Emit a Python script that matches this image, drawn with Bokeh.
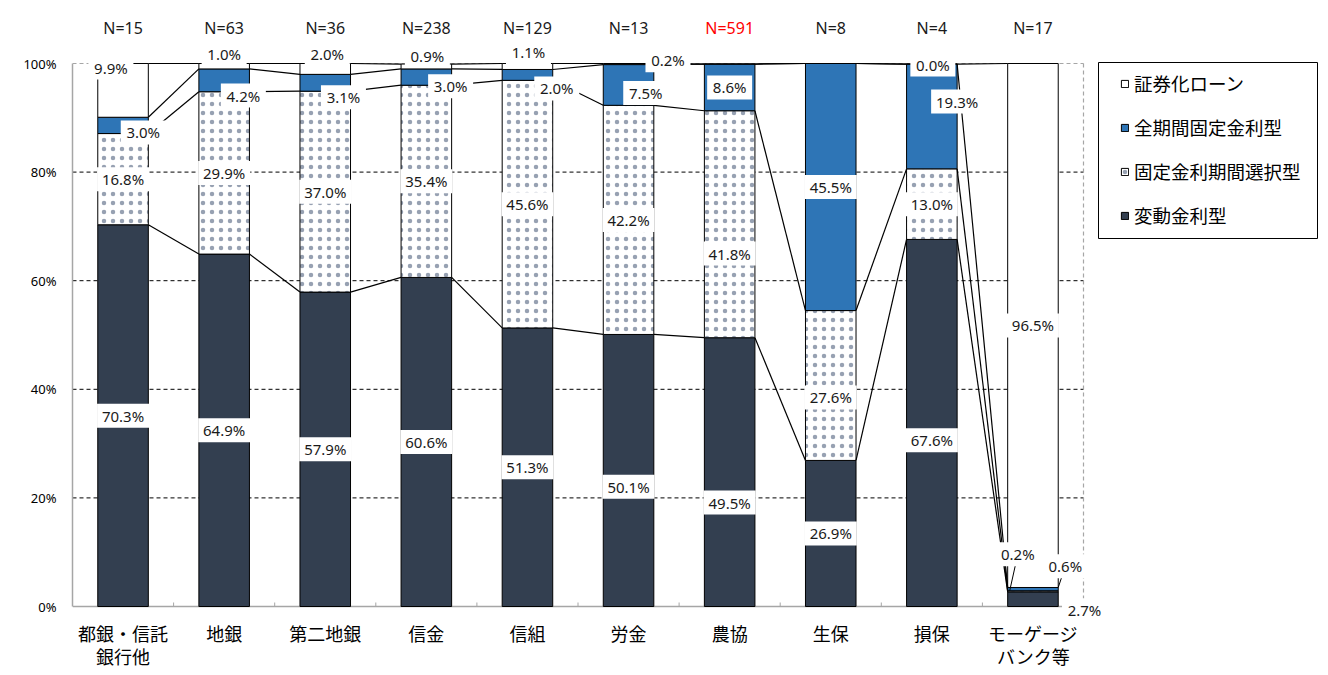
from bokeh.plotting import figure
from bokeh.models import ColumnDataSource, LabelSet, Legend, LegendItem, FixedTicker, Range1d
from bokeh.core.properties import value
from bokeh.embed import file_html
from bokeh.resources import INLINE

# ---- data ----
categories = ["都銀・信託\n銀行他", "地銀", "第二地銀", "信金", "信組", "労金", "農協", "生保", "損保", "モーゲージ\nバンク等"]
n_labels = ["N=15", "N=63", "N=36", "N=238", "N=129", "N=13", "N=591", "N=8", "N=4", "N=17"]
hendo = [70.3, 64.9, 57.9, 60.6, 51.3, 50.1, 49.5, 26.9, 67.6, 2.7]          # 変動金利型
kotei_sentaku = [16.8, 29.9, 37.0, 35.4, 45.6, 42.2, 41.8, 27.6, 13.0, 0.2]   # 固定金利期間選択型
zenkikan = [3.0, 4.2, 3.1, 3.0, 2.0, 7.5, 8.6, 45.5, 19.3, 0.6]               # 全期間固定金利型
shokenka = [9.9, 1.0, 2.0, 0.9, 1.1, 0.2, 0.0, 0.0, 0.0, 96.5]                # 証券化ローン
series_names = ["変動金利型", "固定金利期間選択型", "全期間固定金利型", "証券化ローン"]
y_ticks = [0, 20, 40, 60, 80, 100]
y_tick_labels = ["0%", "20%", "40%", "60%", "80%", "100%"]

series = [hendo, kotei_sentaku, zenkikan, shokenka]

# label adjustments (dx in category units, dy in percentage points), like the manual moves in the original
label_offsets = {
    (0, 2): (0.20, -1.3), (0, 3): (-0.12, 4.2),
    (1, 2): (0.19, -2.8), (1, 3): (0.0, 2.3),
    (2, 2): (0.18, -2.65), (2, 3): (0.02, 2.8),
    (3, 2): (0.24, -1.7), (3, 3): (0.01, 2.0),
    (4, 2): (0.29, -2.5), (4, 3): (0.01, 2.6),
    (5, 0): (0.0, -3.0), (5, 2): (0.17, -1.5), (5, 3): (0.39, 0.7),
    (6, 0): (0.0, -5.6), (6, 1): (0.0, -5.4),
    (7, 1): (0.0, -2.2),
    (8, 0): (0.0, -3.2), (8, 2): (0.25, 2.75), (8, 3): (0.01, -0.1),
    (9, 0): (0.51, -2.05), (9, 1): (-0.15, 6.8), (9, 2): (0.32, 4.2),
}
hidden_labels = {(6, 3), (7, 3)}
leader_labels = {(9, 1): "left", (9, 2): "right"}

# ---- styles / layout ----
DARK = "#333F50"
BLUE = "#2E75B6"
DOT = "#97A1B2"
GREY = "#A6A6A6"
NUM_FONT = "Noto Sans"
JP_FONT = "Noto Sans CJK JP"
BAR_W = 0.5
W, H = 1320, 668
LEFT = 72
PX_PER_CAT = 101.1
PX_PER_PCT = 5.43
ZERO_FROM_TOP = 606          # pixel row of 0% inside the figure

n = len(categories)
xc = [i + 0.5 for i in range(n)]

bottoms, tops = [], []
acc = [0.0] * n
for s in series:
    bottoms.append(list(acc))
    acc = [a + v for a, v in zip(acc, s)]
    tops.append(list(acc))

x_end = (W - LEFT) / PX_PER_CAT
y_end = ZERO_FROM_TOP / PX_PER_PCT
y_start = -(H - ZERO_FROM_TOP) / PX_PER_PCT

p = figure(width=W, height=H,
           x_range=Range1d(0, x_end), y_range=Range1d(y_start, y_end),
           output_backend="svg", toolbar_location=None,
           min_border_left=LEFT, min_border_right=0, min_border_top=0, min_border_bottom=0)
p.background_fill_color = "white"
p.border_fill_color = "white"
p.outline_line_color = None
p.xgrid.visible = False
p.ygrid.visible = False
p.xaxis.visible = False

# y axis (real axis, bounded to 0..100)
p.yaxis.bounds = (0, 100)
p.yaxis.ticker = FixedTicker(ticks=y_ticks)
p.yaxis.major_label_overrides = {t: l for t, l in zip(y_ticks, y_tick_labels)}
p.yaxis.axis_line_color = GREY
p.yaxis.axis_line_width = 1.5
p.yaxis.major_tick_line_color = None
p.yaxis.minor_tick_line_color = None
p.yaxis.major_label_text_font = NUM_FONT
p.yaxis.major_label_text_font_size = "13px"
p.yaxis.major_label_text_color = "black"
p.yaxis.major_label_standoff = 10

# gridlines, plot-area border, category axis line and boundary ticks
grid_y = [t for t in y_ticks if 0 < t < 100]
p.segment(x0=[0] * len(grid_y), y0=grid_y, x1=[n] * len(grid_y), y1=grid_y,
          line_color="black", line_dash="4 3", line_width=1, level="underlay")
p.segment(x0=[0, n], y0=[100, 0], x1=[n, n], y1=[100, 100],
          line_color=GREY, line_dash="4 3", line_width=1.2, level="underlay")
p.segment(x0=[0], y0=[0], x1=[n], y1=[0], line_color=GREY, line_width=1.5)
tick_len = 4 / PX_PER_PCT
p.segment(x0=list(range(1, n)), y0=[0] * (n - 1), x1=list(range(1, n)), y1=[tick_len] * (n - 1),
          line_color=GREY, line_width=1)

# bars
styles = [
    dict(fill_color=DARK),
    dict(fill_color="white", hatch_pattern="dot", hatch_color=DOT, hatch_scale=9, hatch_weight=0.9),
    dict(fill_color=BLUE),
    dict(fill_color="white"),
]
renderers = []
for k in range(4):
    src = ColumnDataSource(dict(x=xc, bottom=bottoms[k], top=tops[k]))
    r = p.vbar(x="x", bottom="bottom", top="top", width=BAR_W, source=src,
               line_color="black", line_width=1, **styles[k])
    renderers.append(r)

# series lines
x0s, y0s, x1s, y1s = [], [], [], []
for k in range(4):
    for i in range(n - 1):
        x0s.append(xc[i] + BAR_W / 2)
        y0s.append(tops[k][i])
        x1s.append(xc[i + 1] - BAR_W / 2)
        y1s.append(tops[k][i + 1])
p.segment(x0=x0s, y0=y0s, x1=x1s, y1=y1s, line_color="black", line_width=1.2)

# data labels
lx, ly, lt, lw = [], [], [], []
for k in range(4):
    for i in range(n):
        if (i, k) in hidden_labels:
            continue
        dx, dy = label_offsets.get((i, k), (0.0, 0.0))
        txt = f"{series[k][i]:.1f}%"
        lx.append(xc[i] + dx)
        ly.append((bottoms[k][i] + tops[k][i]) / 2 + dy)
        lt.append(txt)
        lw.append(7 * len(txt) + 17)

# leader lines (under the label boxes)
lead_x0, lead_y0, lead_x1, lead_y1 = [], [], [], []
for (i, k), side in leader_labels.items():
    dx, dy = label_offsets[(i, k)]
    lead_x0.append(xc[i] - BAR_W / 2 + 0.02 if side == "left" else xc[i] + BAR_W / 2)
    lead_y0.append(tops[k][i])
    lead_x1.append(xc[i] + dx)
    lead_y1.append((bottoms[k][i] + tops[k][i]) / 2 + dy)
p.segment(x0=lead_x0, y0=lead_y0, x1=lead_x1, y1=lead_y1, line_color="black", line_width=1)

lab_src = ColumnDataSource(dict(x=lx, y=ly, text=lt, w=lw))
p.rect(x="x", y="y", width="w", height=24, width_units="screen", height_units="screen",
       source=lab_src, fill_color="white", line_color=None)
p.add_layout(LabelSet(x="x", y="y", text="text", source=lab_src,
                      text_font=value(NUM_FONT), text_font_size="15px", text_color="#1a1a1a",
                      text_align="center", text_baseline="middle"))

# N labels above the bars
n_colors = ["red" if t == "N=591" else "#1a1a1a" for t in n_labels]
n_src = ColumnDataSource(dict(x=xc, y=[100] * n, text=n_labels, color=n_colors))
p.add_layout(LabelSet(x="x", y="y", text="text", source=n_src, y_offset=36,
                      text_font=value(NUM_FONT), text_font_size="16px", text_color="color",
                      text_align="center", text_baseline="middle"))

# category labels (two lines where needed)
line1 = [c.split("\n")[0] for c in categories]
line2 = [c.split("\n")[1] if "\n" in c else "" for c in categories]
cat_src = ColumnDataSource(dict(x=xc, y=[0] * n, t1=line1, t2=line2))
p.add_layout(LabelSet(x="x", y="y", text="t1", source=cat_src, y_offset=-26,
                      text_font=value(JP_FONT), text_font_size="18px", text_color="black",
                      text_align="center", text_baseline="middle"))
p.add_layout(LabelSet(x="x", y="y", text="t2", source=cat_src, y_offset=-49,
                      text_font=value(JP_FONT), text_font_size="18px", text_color="black",
                      text_align="center", text_baseline="middle"))

# legend: frame box + entries
box_cx = (1207.5 - LEFT) / PX_PER_CAT
box_cy = (ZERO_FROM_TOP - 150) / PX_PER_PCT
p.rect(x=[box_cx], y=[box_cy], width=219, height=176, width_units="screen", height_units="screen",
       fill_color="white", line_color="black", line_width=1)
legend = Legend(items=[LegendItem(label=series_names[k], renderers=[renderers[k]]) for k in [3, 2, 1, 0]],
                location=(1120 - LEFT, H - 228), orientation="vertical",
                glyph_width=9, glyph_height=9, label_height=22, spacing=18, padding=0,
                label_standoff=5, margin=0,
                label_text_font=JP_FONT, label_text_font_size="18.5px", label_text_color="black",
                border_line_color=None, background_fill_alpha=0)
p.add_layout(legend)

open("out.html", "w").write(file_html(p, INLINE))
